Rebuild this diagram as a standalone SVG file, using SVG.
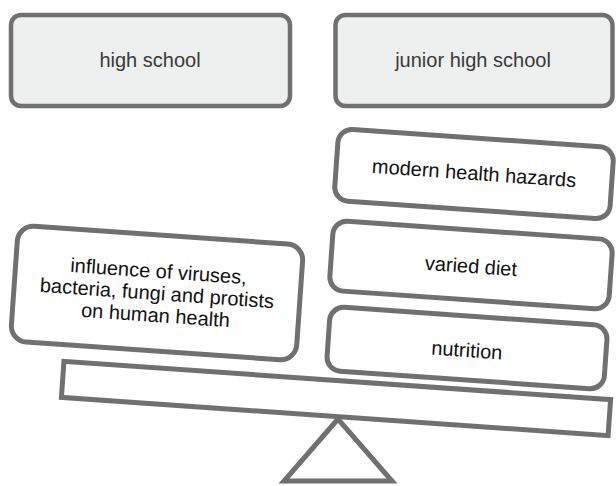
<svg xmlns="http://www.w3.org/2000/svg" width="616" height="486" viewBox="0 0 616 486">
  <style>
    .head rect { fill: #eeefef; stroke: #707070; stroke-width: 4.5; }
    .head text { font-family: "Liberation Sans", Arial, sans-serif; font-size: 20px; fill: #3a3a3a; text-anchor: middle; }
    .card rect { fill: #ffffff; stroke: #707070; stroke-width: 5; }
    .card text { font-family: "Liberation Sans", Arial, sans-serif; font-size: 20px; fill: #111111; text-anchor: middle; }
    .scale { fill: #ffffff; stroke: #707070; stroke-width: 5; stroke-linejoin: miter; }
  </style>

  <!-- column headers -->
  <g id="high-school" class="head">
    <rect x="11" y="15" width="279" height="91" rx="10"/>
    <text x="150" y="67">high school</text>
  </g>
  <g id="junior-high-school" class="head">
    <rect x="335.5" y="15" width="277" height="91" rx="10"/>
    <text x="473" y="67">junior high school</text>
  </g>

  <!-- balance: fulcrum and tilted beam -->
  <g id="balance">
    <polygon class="scale" points="338,419 284,481 392,481"/>
    <rect class="scale" x="-274" y="-18" width="548" height="36" transform="translate(336 398.5) rotate(4)"/>
  </g>

  <!-- left pan -->
  <g id="microbes-health" class="card" transform="translate(157 293) rotate(4)">
    <rect x="-143" y="-58" width="286" height="116" rx="16"/>
    <text x="0" y="-15" font-size="20.5">influence of viruses,</text>
    <text x="0" y="7" font-size="20.5">bacteria, fungi and protists</text>
    <text x="0" y="29" font-size="20.5">on human health</text>
  </g>

  <!-- right pan, stacked -->
  <g id="modern-health-hazards" class="card" transform="translate(474 174) rotate(4)">
    <rect x="-138" y="-36" width="276" height="72" rx="14"/>
    <text x="0" y="6">modern health hazards</text>
  </g>
  <g id="varied-diet" class="card" transform="translate(471 265) rotate(4)">
    <rect x="-140" y="-35" width="280" height="70" rx="14"/>
    <text x="0" y="8">varied diet</text>
  </g>
  <g id="nutrition" class="card" transform="translate(467 348) rotate(4)">
    <rect x="-139" y="-32" width="278" height="64" rx="14"/>
    <text x="0" y="9">nutrition</text>
  </g>
</svg>
